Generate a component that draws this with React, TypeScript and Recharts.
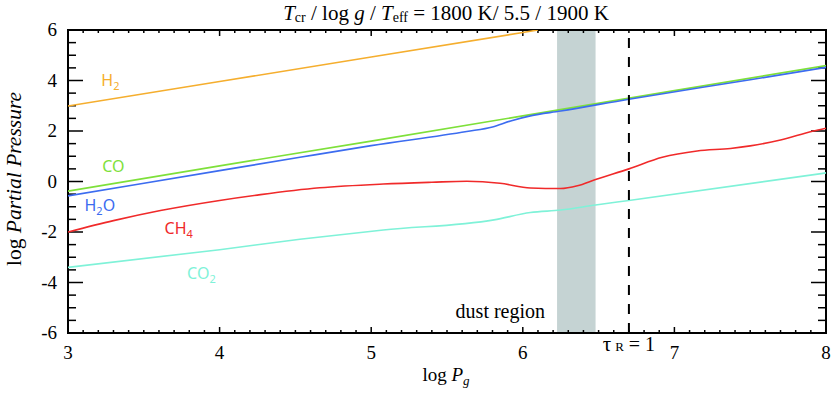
import {
  LineChart,
  Line,
  XAxis,
  YAxis,
  ReferenceArea,
  ReferenceLine,
  ReferenceDot,
} from "recharts";

// log Pg (x) and log partial pressure (y)
const H2_X = [3, 4, 5, 6, 6.1];
const H2_Y = [2.99, 3.96, 4.93, 5.9, 6.0];

const CO_X = [3, 4, 5, 6, 7, 8];
const CO_Y = [-0.38, 0.62, 1.6, 2.6, 3.6, 4.59];

const H2O_X = [3, 4, 4.53, 5, 5.63, 5.8, 5.92, 6.05, 6.25, 6.7, 7.5, 8];
const H2O_Y = [-0.57, 0.43, 0.96, 1.42, 1.98, 2.16, 2.4, 2.6, 2.79, 3.26, 4.03, 4.52];

const CH4_X = [3, 3.3, 3.61, 4, 4.27, 4.66, 5.08, 5.4, 5.63, 5.85, 6.05, 6.25, 6.36, 6.48, 6.7, 6.92, 7.15, 7.37, 7.5, 7.7, 7.91, 8];
const CH4_Y = [-2.0, -1.55, -1.15, -0.75, -0.52, -0.25, -0.1, -0.03, 0.01, -0.07, -0.26, -0.28, -0.17, 0.08, 0.5, 0.96, 1.21, 1.31, 1.41, 1.64, 1.99, 2.11];

const CO2_X = [3, 4, 4.53, 5.08, 5.81, 6.05, 6.25, 6.48, 6.7, 8];
const CO2_Y = [-3.4, -2.7, -2.29, -1.92, -1.52, -1.23, -1.13, -0.93, -0.75, 0.34];

const DUST = [6.226, 6.48];
const TAU_R = 6.7;

const X_DOMAIN = [3, 8];
const Y_DOMAIN = [-6, 6];
const X_MAJOR = [3, 4, 5, 6, 7, 8];
const Y_MAJOR = [-6, -4, -2, 0, 2, 4, 6];
const X_MINOR_STEP = 0.1;
const Y_MINOR_STEP = 0.5;

// species labels: name, subscript, tail, position
const LABELS = [
  { main: "H", sub: "2", tail: "", x: 3.28, y: 4.02, color: "#f5ae2e" },
  { main: "CO", sub: "", tail: "", x: 3.3, y: 0.61, color: "#7ee03a" },
  { main: "H", sub: "2", tail: "O", x: 3.21, y: -0.93, color: "#3c6cf0" },
  { main: "CH", sub: "4", tail: "", x: 3.73, y: -1.84, color: "#f02a2a" },
  { main: "CO", sub: "2", tail: "", x: 3.88, y: -3.62, color: "#7ff2d8" },
];

const toPts = (xs: number[], ys: number[]) => xs.map((x, i) => ({ x, y: ys[i] }));

const steps = (lo: number, hi: number, step: number) => {
  const out: number[] = [];
  const n = Math.round((hi - lo) / step);
  for (let i = 0; i <= n; i++) out.push(+(lo + i * step).toFixed(4));
  return out;
};

const SERIF = "'Liberation Serif', 'Times New Roman', serif";
const SANS = "'Noto Sans', 'Open Sans', sans-serif";

const isMajor = (v: number, list: number[]) => list.some((m) => Math.abs(m - v) < 1e-6);

function LeftTick(props: any) {
  const { x, y, payload } = props;
  return (
    <text x={x - 11} y={y + 6} textAnchor="end" fontSize={19} fontFamily={SERIF} fill="#000">
      {payload.value}
    </text>
  );
}

function BottomTick(props: any) {
  const { x, y, payload } = props;
  return (
    <text x={x} y={y + 26} textAnchor="middle" fontSize={19} fontFamily={SERIF} fill="#000">
      {payload.value}
    </text>
  );
}

// frame with inward ticks on all four sides, drawn from the plot's viewBox
function Frame(p: any) {
  const { x, y, width, height } = p.viewBox;
  const sx = (v: number) => x + ((v - X_DOMAIN[0]) / (X_DOMAIN[1] - X_DOMAIN[0])) * width;
  const sy = (v: number) => y + height - ((v - Y_DOMAIN[0]) / (Y_DOMAIN[1] - Y_DOMAIN[0])) * height;
  const marks: any[] = [];
  steps(X_DOMAIN[0], X_DOMAIN[1], X_MINOR_STEP).forEach((v, i) => {
    const len = isMajor(v, X_MAJOR) ? 6 : 3;
    const px = sx(v);
    marks.push(<line key={"xb" + i} x1={px} y1={y + height} x2={px} y2={y + height - len} />);
    marks.push(<line key={"xt" + i} x1={px} y1={y} x2={px} y2={y + len} />);
  });
  steps(Y_DOMAIN[0], Y_DOMAIN[1], Y_MINOR_STEP).forEach((v, i) => {
    const len = isMajor(v, Y_MAJOR) ? 15 : 8;
    const py = sy(v);
    marks.push(<line key={"yl" + i} x1={x} y1={py} x2={x + len} y2={py} />);
    marks.push(<line key={"yr" + i} x1={x + width} y1={py} x2={x + width - len} y2={py} />);
  });
  return (
    <g stroke="#000" strokeWidth={1.5} fill="none">
      {marks}
      <rect x={x} y={y} width={width} height={height} strokeWidth={2} />
    </g>
  );
}

function SpeciesLabel(l: (typeof LABELS)[number]) {
  return (p: any) => (
    <text x={p.cx} y={p.cy + 6} textAnchor="middle" fontSize={16} fontFamily={SANS} fill={l.color}>
      {l.main}
      {l.sub && (
        <tspan fontSize={11} dy={4}>
          {l.sub}
        </tspan>
      )}
      {l.tail && <tspan dy={-4}>{l.tail}</tspan>}
    </text>
  );
}

export default function App() {
  return (
    <div style={{ position: "absolute", left: 0, top: 0, width: 831, height: 393, background: "#fff" }}>
      <LineChart width={831} height={393} margin={{ top: 30, right: 5, bottom: 30, left: 28 }}>
        <XAxis
          type="number"
          dataKey="x"
          domain={X_DOMAIN}
          ticks={X_MAJOR}
          interval={0}
          height={30}
          tickSize={0}
          tickMargin={0}
          tickLine={false}
          axisLine={false}
          tick={<BottomTick />}
          allowDataOverflow
        />
        <YAxis
          type="number"
          domain={Y_DOMAIN}
          ticks={Y_MAJOR}
          interval={0}
          width={40}
          tickSize={0}
          tickMargin={0}
          tickLine={false}
          axisLine={false}
          tick={<LeftTick />}
          allowDataOverflow
        />
        <ReferenceArea
          x1={DUST[0]}
          x2={DUST[1]}
          y1={Y_DOMAIN[0]}
          y2={Y_DOMAIN[1]}
          fill="#c5d3d3"
          fillOpacity={1}
          stroke="none"
          label={{
            content: (p: any) => (
              <text
                x={p.viewBox.x - 12}
                y={p.viewBox.y + p.viewBox.height - 15}
                textAnchor="end"
                fontSize={20}
                fontFamily={SERIF}
                fill="#000"
              >
                dust region
              </text>
            ),
          }}
        />
        <Line data={toPts(H2_X, H2_Y)} dataKey="y" stroke="#f5ae2e" strokeWidth={1.6} dot={false} isAnimationActive={false} />
        <Line data={toPts(CO_X, CO_Y)} dataKey="y" stroke="#7ee03a" strokeWidth={1.6} dot={false} isAnimationActive={false} />
        <Line type="monotone" data={toPts(H2O_X, H2O_Y)} dataKey="y" stroke="#3c6cf0" strokeWidth={1.6} dot={false} isAnimationActive={false} />
        <Line type="monotone" data={toPts(CH4_X, CH4_Y)} dataKey="y" stroke="#f02a2a" strokeWidth={1.6} dot={false} isAnimationActive={false} />
        <Line type="monotone" data={toPts(CO2_X, CO2_Y)} dataKey="y" stroke="#7ff2d8" strokeWidth={1.6} dot={false} isAnimationActive={false} />
        <ReferenceLine
          x={TAU_R}
          stroke="#000"
          strokeWidth={2}
          strokeDasharray="10 9"
          label={{
            content: (p: any) => (
              <text
                x={p.viewBox.x}
                y={p.viewBox.y + p.viewBox.height + 18}
                textAnchor="middle"
                fontSize={21}
                fontFamily={SERIF}
                fill="#000"
              >
                τ
                <tspan fontSize={13} dx={4}>R</tspan>
                <tspan fontSize={20}> = 1</tspan>
              </text>
            ),
          }}
        />
        {LABELS.map((l) => (
          <ReferenceDot key={l.main + l.sub + l.tail} x={l.x} y={l.y} r={0} shape={SpeciesLabel(l)} />
        ))}
        <ReferenceArea
          x1={X_DOMAIN[0]}
          x2={X_DOMAIN[1]}
          y1={Y_DOMAIN[0]}
          y2={Y_DOMAIN[1]}
          fill="none"
          stroke="none"
          label={{ content: Frame }}
        />
      </LineChart>
      <svg
        width={831}
        height={393}
        style={{ position: "absolute", left: 0, top: 0, pointerEvents: "none" }}
        fontFamily={SERIF}
      >
        <text x={446} y={20} textAnchor="middle" fontSize={21} fill="#000">
          <tspan fontStyle="italic">T</tspan>
          <tspan fontSize={14} dy={2}>cr</tspan>
          <tspan dy={-2}> / log </tspan>
          <tspan fontStyle="italic">g</tspan>
          <tspan> / </tspan>
          <tspan fontStyle="italic">T</tspan>
          <tspan fontSize={14} dy={2}>eff</tspan>
          <tspan dy={-2}> = 1800 K/ 5.5 / 1900 K</tspan>
        </text>
        <text x={21} y={179} textAnchor="middle" fontSize={21.5} fill="#000" transform="rotate(-90 21 179)">
          log <tspan fontStyle="italic">Partial Pressure</tspan>
        </text>
        <text x={446} y={381} textAnchor="middle" fontSize={19} fill="#000">
          log <tspan fontStyle="italic">P</tspan>
          <tspan fontStyle="italic" fontSize={13} dy={4}>g</tspan>
        </text>
      </svg>
    </div>
  );
}
